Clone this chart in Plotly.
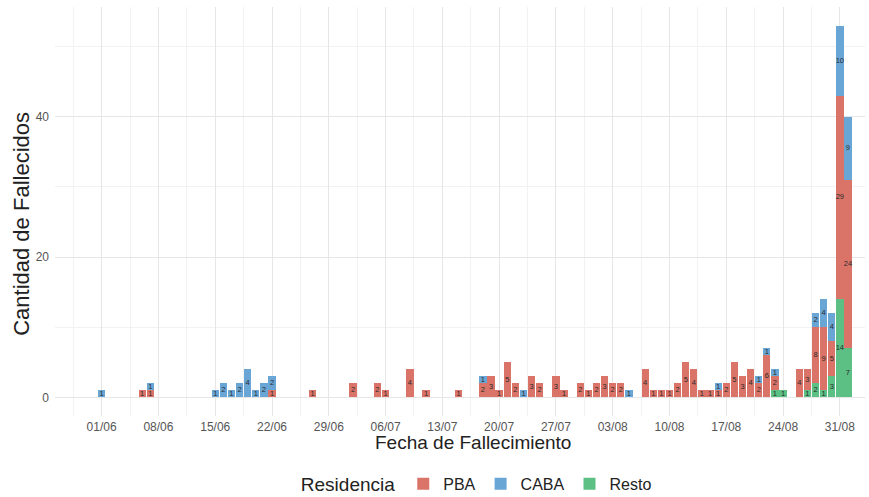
import plotly.graph_objects as go
import pandas as pd

# ---- data ----
dates = ["2020-06-01", "2020-06-06", "2020-06-07", "2020-06-15", "2020-06-16", "2020-06-17",
         "2020-06-18", "2020-06-19", "2020-06-20", "2020-06-21", "2020-06-22", "2020-06-27",
         "2020-07-02", "2020-07-05", "2020-07-06", "2020-07-09", "2020-07-11", "2020-07-15",
         "2020-07-18", "2020-07-19", "2020-07-20", "2020-07-21", "2020-07-22", "2020-07-23",
         "2020-07-24", "2020-07-25", "2020-07-27", "2020-07-28", "2020-07-30", "2020-07-31",
         "2020-08-01", "2020-08-02", "2020-08-03", "2020-08-04", "2020-08-05", "2020-08-07",
         "2020-08-08", "2020-08-09", "2020-08-10", "2020-08-11", "2020-08-12", "2020-08-13",
         "2020-08-14", "2020-08-15", "2020-08-16", "2020-08-17", "2020-08-18", "2020-08-19",
         "2020-08-20", "2020-08-21", "2020-08-22", "2020-08-23", "2020-08-24", "2020-08-26",
         "2020-08-27", "2020-08-28", "2020-08-29", "2020-08-30", "2020-08-31", "2020-09-01"]
pba = [0, 1, 1, 0, 0, 0, 0, 0, 0, 0, 1, 1,
       2, 2, 1, 4, 1, 1,
       2, 3, 1, 5, 2, 0,
       3, 2, 3, 1, 2, 1,
       2, 3, 2, 2, 0, 4,
       1, 1, 1, 2, 5, 4,
       1, 1, 1, 2, 5, 3,
       4, 2, 6, 2, 0, 4,
       3, 8, 9, 5, 29, 24]
caba = [1, 0, 1, 1, 2, 1, 2, 4, 1, 2, 2, 0,
        0, 0, 0, 0, 0, 0,
        1, 0, 0, 0, 0, 1,
        0, 0, 0, 0, 0, 0,
        0, 0, 0, 0, 1, 0,
        0, 0, 0, 0, 0, 0,
        0, 0, 1, 0, 0, 0,
        0, 1, 1, 1, 0, 0,
        0, 2, 4, 4, 10, 9]
resto = [0] * 51 + [1, 1, 0, 1, 2, 1, 3, 14, 7]

series_names = ["PBA", "CABA", "Resto"]
series_colors = {"PBA": "#DB7468", "CABA": "#69A6D6", "Resto": "#5CBF84"}
tick_format = "%d/%m"
y_ticks = [0, 20, 40]

DAY_MS = 86400000
values = {"PBA": pba, "CABA": caba, "Resto": resto}
stack_order = ["Resto", "PBA", "CABA"]

fig = go.Figure()
base = [0] * len(dates)
label_x, label_y, label_t = [], [], []
for name in stack_order:
    vals = values[name]
    fig.add_trace(go.Bar(
        x=dates, y=vals, name=name, width=0.9 * DAY_MS,
        marker=dict(color=series_colors[name], line=dict(width=0)),
        legendrank=series_names.index(name) + 1, hoverinfo="skip"))
    for i, v in enumerate(vals):
        if v > 0:
            label_x.append(dates[i])
            label_y.append(base[i] + v / 2)
            label_t.append(str(v))
    base = [b + v for b, v in zip(base, vals)]

fig.add_trace(go.Scatter(
    x=label_x, y=label_y, text=label_t, mode="text", showlegend=False,
    textfont=dict(size=7.5, color="#2a2a2a", family="Liberation Sans"),
    hoverinfo="skip"))

t0 = pd.Timestamp("2020-06-01")
x0 = (t0 + pd.Timedelta(days=-5.75)).strftime("%Y-%m-%d %H:%M:%S")
x1 = (t0 + pd.Timedelta(days=94.1)).strftime("%Y-%m-%d %H:%M:%S")

fig.update_layout(
    width=869, height=497,
    margin=dict(l=55, r=4, t=7, b=80.6, autoexpand=False),
    barmode="stack", bargap=0,
    plot_bgcolor="white", paper_bgcolor="white",
    font=dict(family="Liberation Sans", color="#222"),
    legend=dict(orientation="h", x=0.522, xanchor="center", y=-0.167, yanchor="middle",
                traceorder="normal",
                title=dict(text="Residencia", font=dict(size=19, color="#222"), side="left"),
                font=dict(size=16, color="#222"), itemwidth=30),
    xaxis=dict(type="date", range=[x0, x1], tick0="2020-06-01", dtick=7 * DAY_MS,
               tickformat=tick_format, showgrid=True, gridcolor="#E6E6E6", gridwidth=1,
               minor=dict(tick0="2020-06-01", dtick=3.5 * DAY_MS, showgrid=True,
                          gridcolor="#F2F2F2", gridwidth=0.8),
               tickfont=dict(size=12, color="#555"), ticks="", zeroline=False,
               showline=False, ticklabelstandoff=2, automargin=False),
    yaxis=dict(range=[-2.65, 55.65], tickvals=y_ticks, showgrid=True, gridcolor="#E6E6E6",
               gridwidth=1,
               minor=dict(dtick=10, tick0=0, showgrid=True, gridcolor="#F2F2F2", gridwidth=0.8),
               tickfont=dict(size=12, color="#555"), ticks="", zeroline=False,
               showline=False, ticklabelstandoff=5, automargin=False),
    annotations=[
        dict(text="Fecha de Fallecimiento", xref="paper", yref="paper", x=0.516, y=-0.066,
             xanchor="center", yanchor="middle", showarrow=False,
             font=dict(size=19, color="#222")),
        dict(text="Cantidad de Fallecidos", xref="paper", yref="paper", x=-0.0407, y=0.47,
             xanchor="center", yanchor="middle", showarrow=False, textangle=-90,
             font=dict(size=22, color="#222")),
    ],
)

fig.write_html("out.html", config={"displayModeBar": False},
               post_script="document.body.style.margin='0';")
